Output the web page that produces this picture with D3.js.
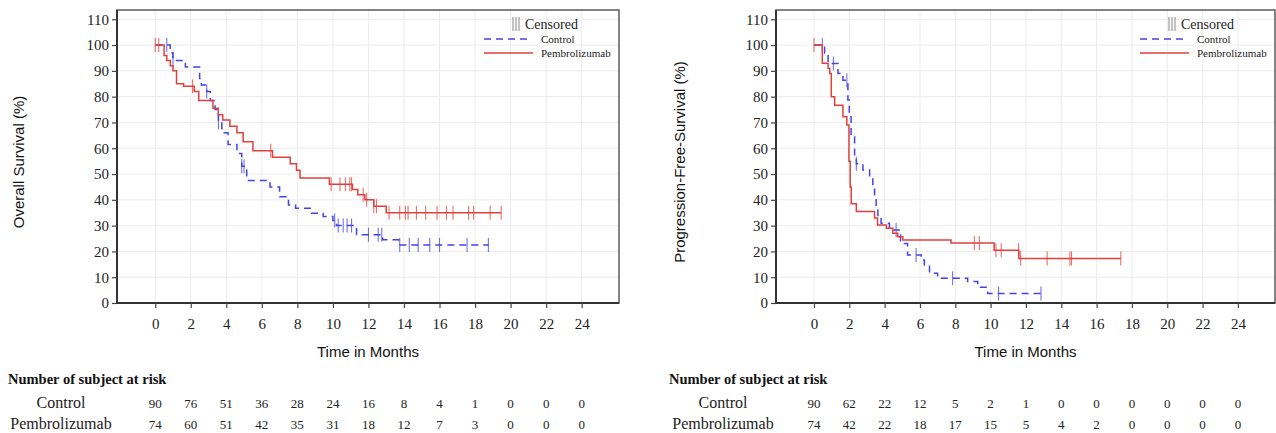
<!DOCTYPE html>
<html><head><meta charset="utf-8">
<script src="https://cdn.jsdelivr.net/npm/d3@7"></script>
<style>body{margin:0;background:#fff}svg{display:block}</style>
</head><body>
<svg id="c" width="1276" height="433"></svg>
<script>
// ---------- data ----------
const monthTicks = [0,2,4,6,8,10,12,14,16,18,20,22,24];
const pctTicks = [0,10,20,30,40,50,60,70,80,90,100,110];
const groups = ["Control", "Pembrolizumab"];

// Overall survival
const osControlTime = [0,0.85,1.0,1.7,2.5,2.6,2.9,3.1,3.37,3.56,3.75,4.1,4.6,4.87,5.15,6.46,7.0,7.5,7.9,8.8,9.45,10.0,10.2,11.33,12.8,13.7];
const osControlSurv = [100,97,94,91.5,87,84.5,82,78.5,75,70,66,61.5,58,53,47.5,45,41.2,38,36.7,34.8,33.5,32,30,26.5,24.5,22.5];
const osControlCens = [0.65,1.0,2.9,3.56,4.87,5.0,10.1,10.3,10.58,10.8,11.05,12.0,12.55,12.75,13.76,14.3,14.8,15.45,16.0,17.55,18.75];
const osPembroTime = [0,0.5,0.65,0.85,1.0,1.2,1.6,2.2,2.45,3.25,3.55,3.8,4.2,4.6,4.95,5.5,6.6,7.6,7.95,8.15,9.8,11.1,11.4,11.8,12.3,13.0];
const osPembroSurv = [100,96,94,92,90,85,84,82,78.5,75.5,73,71,68.5,66,62.5,59,56.5,54,51.5,48.5,46,44,42,40,37.5,35];
const osPembroCens = [0,0.2,2.1,6.5,9.9,10.4,10.7,10.95,11.05,11.7,11.9,12.3,12.45,13.16,13.76,14.08,14.23,14.7,15.22,15.86,16.39,16.76,17.64,17.92,18.85,19.47];

// Progression-free survival
const pfsControlTime = [0,0.6,0.8,1.36,1.64,1.92,2.0,2.1,2.3,2.4,2.77,3.15,3.33,3.43,3.52,3.62,3.8,4.27,4.9,5.3,6.07,6.25,6.54,7.0,8.7,9.27,9.83];
const pfsControlSurv = [100,96.8,92.9,89,86.4,78.7,72.2,64.5,56.7,54,51.6,49,45,41.2,37.3,33.4,30.9,28.3,23.1,18.6,16.7,14.7,11.5,9.6,8.3,6.1,3.7];
const pfsControlCens = [0.47,1.1,1.86,2.4,4.65,5.78,7.85,10.45,12.85];
const pfsPembroTime = [0,0.47,0.8,0.89,0.98,1.17,1.64,1.86,1.98,2.05,2.11,2.4,3.43,3.6,4.1,4.46,4.74,5.03,7.76,10.2,11.6];
const pfsPembroSurv = [100,93,91,89,80,76.7,72.2,69,55,45,38.5,35.5,33,30.2,29,27,25.7,24.4,23.3,20.5,17.3];
const pfsPembroCens = [0,9.08,9.36,10.3,10.6,11.58,11.7,13.2,14.49,14.58,17.37];

// Number at risk
const osRiskControl = [90,76,51,36,28,24,16,8,4,1,0,0,0];
const osRiskPembro  = [74,60,51,42,35,31,18,12,7,3,0,0,0];
const pfsRiskControl = [90,62,22,12,5,2,1,0,0,0,0,0,0];
const pfsRiskPembro  = [74,42,22,18,17,15,5,4,2,0,0,0,0];

const yTitles = ["Overall Survival (%)", "Progression-Free-Survival (%)"];
const xTitle = "Time in Months";
const riskTitle = "Number of subject at risk";
const legendTitle = "Censored";

// ---------- drawing ----------
const svg = d3.select("#c");
const RED = "#e2403c", BLUE = "#4343e6";
const SERIF = "'Liberation Serif','Times New Roman',serif";
const SANS = "'Liberation Sans',Arial,sans-serif";

const panels = [
  {x0:117, x1:619, yLabelX:19, riskX:8, riskLabelC:61, yTitle:yTitles[0],
   curves:[
     {t:osControlTime, s:osControlSurv, c:osControlCens, color:BLUE, dash:"7,5"},
     {t:osPembroTime, s:osPembroSurv, c:osPembroCens, color:RED, dash:null}],
   risk:[osRiskControl, osRiskPembro]},
  {x0:776, x1:1275, yLabelX:680, riskX:669, riskLabelC:723, yTitle:yTitles[1],
   curves:[
     {t:pfsControlTime, s:pfsControlSurv, c:pfsControlCens, color:BLUE, dash:"7,5"},
     {t:pfsPembroTime, s:pfsPembroSurv, c:pfsPembroCens, color:RED, dash:null}],
   risk:[pfsRiskControl, pfsRiskPembro]}
];

const yTop = 10, yBot = 303;
const y = d3.scaleLinear().domain([0, 113.6]).range([yBot, yTop]);

function survAt(times, surv, t){
  let i = d3.bisectRight(times, t) - 1;
  if (i < 0) i = 0;
  return surv[i];
}

panels.forEach(p => {
  const x = d3.scaleLinear().domain([-2.15, 26.1]).range([p.x0, p.x1]);
  const g = svg.append("g");

  // grid
  g.selectAll(".vg").data(monthTicks).join("line")
    .attr("x1", d=>x(d)).attr("x2", d=>x(d)).attr("y1", yTop).attr("y2", yBot)
    .attr("stroke", "#ececec").attr("stroke-width", 1);
  g.selectAll(".hg").data(pctTicks).join("line")
    .attr("x1", p.x0).attr("x2", p.x1).attr("y1", d=>y(d)).attr("y2", d=>y(d))
    .attr("stroke", "#ececec").attr("stroke-width", 1);

  // frame
  g.append("rect").attr("x", p.x0).attr("y", yTop).attr("width", p.x1-p.x0).attr("height", yBot-yTop)
    .attr("fill", "none").attr("stroke", "#666").attr("stroke-width", 1.6);

  // axes
  const ax = d3.axisBottom(x).tickValues(monthTicks).tickSize(5).tickPadding(10).tickFormat(d3.format("d"));
  const axG = g.append("g").attr("transform", `translate(0,${yBot})`).call(ax);
  axG.select(".domain").attr("d", `M${p.x0},0H${p.x1}`).attr("stroke", "#333").attr("stroke-width", 2);
  axG.selectAll(".tick line").attr("stroke", "#444").attr("stroke-width", 1.2);
  axG.selectAll("text").attr("font-family", SERIF).attr("font-size", 15).attr("fill", "#222");

  const ay = d3.axisLeft(y).tickValues(pctTicks).tickSize(5).tickPadding(3).tickFormat(d3.format("d"));
  const ayG = g.append("g").attr("transform", `translate(${p.x0},0)`).call(ay);
  ayG.select(".domain").attr("d", `M0,${yTop}V${yBot}`).attr("stroke", "#333").attr("stroke-width", 2);
  ayG.selectAll(".tick line").attr("stroke", "#444").attr("stroke-width", 1.2);
  ayG.selectAll("text").attr("font-family", SERIF).attr("font-size", 15).attr("fill", "#222");

  // titles
  g.append("text").attr("x", (p.x0+p.x1)/2).attr("y", 357).attr("text-anchor", "middle")
    .attr("font-family", SANS).attr("font-size", 15).attr("fill", "#111").text(xTitle);
  g.append("text").attr("transform", `translate(${p.yLabelX+5},162) rotate(-90)`).attr("text-anchor", "middle")
    .attr("font-family", SANS).attr("font-size", 15).attr("fill", "#111").text(p.yTitle);

  // curves
  const line = d3.line().x(d=>x(d[0])).y(d=>y(d[1])).curve(d3.curveStepAfter);
  p.curves.forEach(cv => {
    const pts = cv.t.map((t,i)=>[t, cv.s[i]]);
    const tEnd = Math.max(d3.max(cv.c), d3.max(cv.t));
    pts.push([tEnd, cv.s[cv.s.length-1]]);
    g.append("path").attr("d", line(pts)).attr("fill", "none")
      .attr("stroke", cv.color).attr("stroke-width", 1.5)
      .attr("stroke-dasharray", cv.dash);
    g.selectAll(null).data(cv.c).join("line")
      .attr("x1", d=>x(d)).attr("x2", d=>x(d))
      .attr("y1", d=>y(survAt(cv.t, cv.s, d))-7).attr("y2", d=>y(survAt(cv.t, cv.s, d))+7)
      .attr("stroke", cv.color).attr("stroke-width", 1.1).attr("opacity", 0.75);
  });

  // legend
  const R = p.x1;
  const lg = g.append("g");
  [0,3,6].forEach(dx => lg.append("line").attr("x1", R-106+dx).attr("x2", R-106+dx)
    .attr("y1", 17).attr("y2", 31).attr("stroke", "#888").attr("stroke-width", 1));
  lg.append("text").attr("x", R-94).attr("y", 29).attr("font-family", SERIF).attr("font-size", 14)
    .attr("fill", "#222").text(legendTitle);
  lg.append("line").attr("x1", R-135).attr("x2", R-87).attr("y1", 39).attr("y2", 39)
    .attr("stroke", BLUE).attr("stroke-width", 1.5).attr("stroke-dasharray", "7,5");
  lg.append("line").attr("x1", R-135).attr("x2", R-86).attr("y1", 53).attr("y2", 53)
    .attr("stroke", RED).attr("stroke-width", 1.5);
  lg.append("text").attr("x", R-78).attr("y", 43).attr("font-family", SERIF).attr("font-size", 11)
    .attr("fill", "#222").text(groups[0]);
  lg.append("text").attr("x", R-78).attr("y", 57).attr("font-family", SERIF).attr("font-size", 11)
    .attr("fill", "#222").text(groups[1]);

  // risk table
  g.append("text").attr("x", p.riskX).attr("y", 384).attr("font-family", SERIF).attr("font-size", 14.5)
    .attr("font-weight", "bold").attr("fill", "#111").text(riskTitle);
  const rowY = [408, 429];
  groups.forEach((name, gi) => {
    g.append("text").attr("x", p.riskLabelC).attr("y", rowY[gi]).attr("text-anchor", "middle")
      .attr("font-family", SERIF).attr("font-size", 16).attr("fill", "#222").text(name);
    g.selectAll(null).data(p.risk[gi]).join("text")
      .attr("x", (d,i)=>x(monthTicks[i])).attr("y", rowY[gi]).attr("text-anchor", "middle")
      .attr("font-family", SERIF).attr("font-size", 13).attr("fill", "#222").text(d=>d);
  });
});
</script>
</body></html>
